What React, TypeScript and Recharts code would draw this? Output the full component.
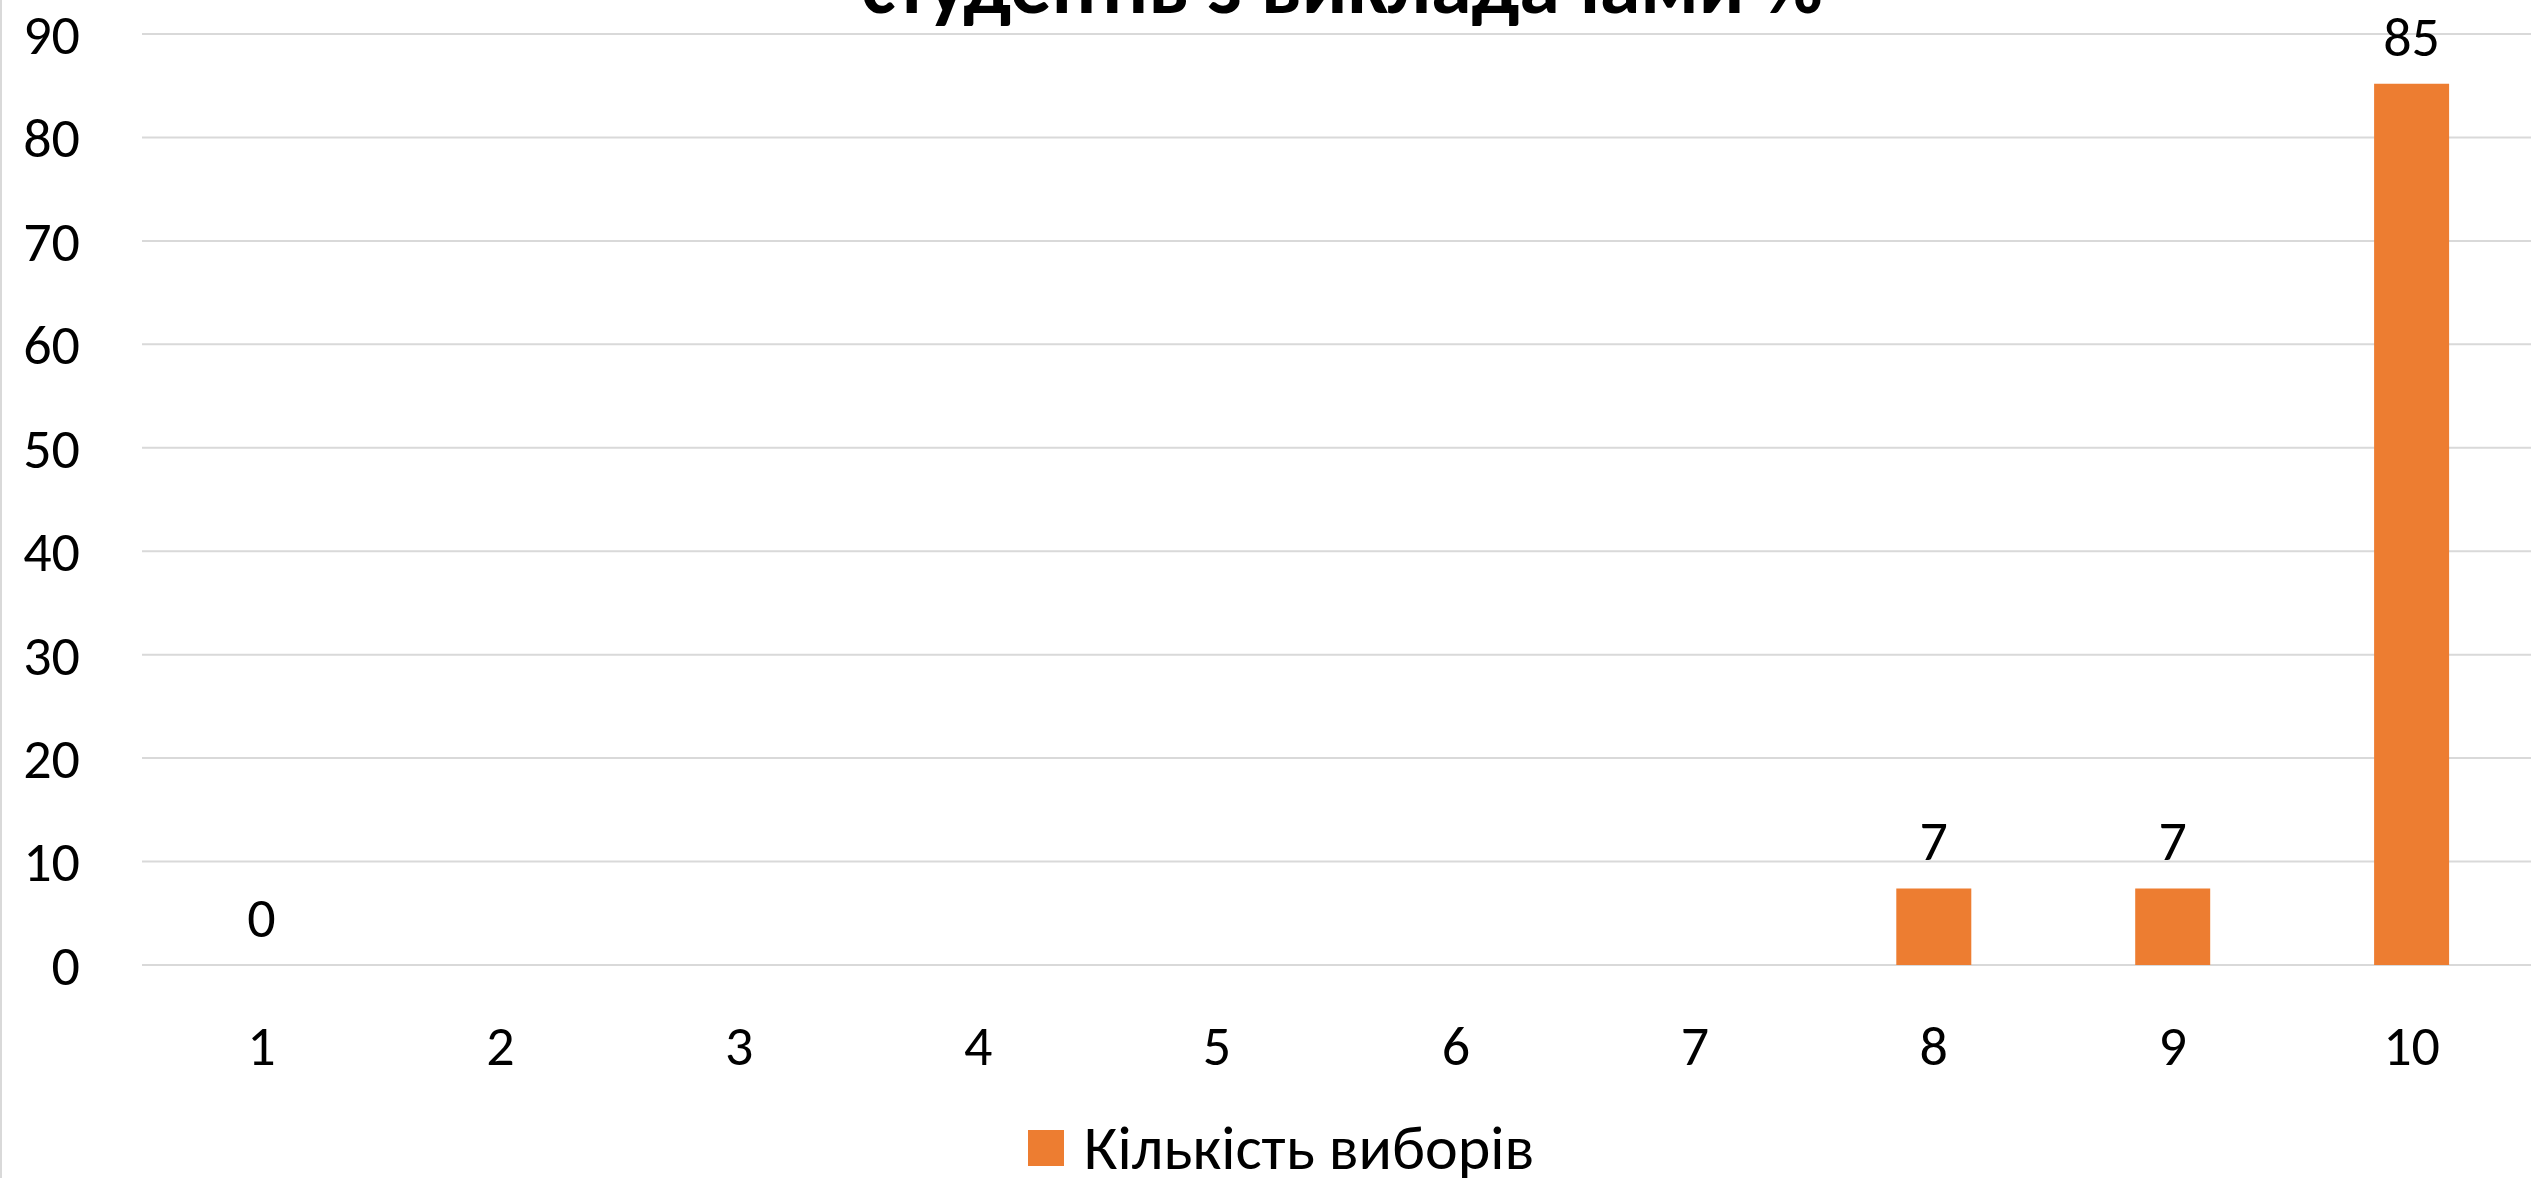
import React from 'react';
import {
  Bar,
  ComposedChart,
  CartesianGrid,
  LabelList,
  Legend,
  Line,
  XAxis,
  YAxis
} from 'recharts';

const categories = ['1', '2', '3', '4', '5', '6', '7', '8', '9', '10'];
const choices: (number | null)[] = [0, null, null, null, null, null, null, 7.4, 7.4, 85.2];
const yTicks = [0, 10, 20, 30, 40, 50, 60, 70, 80, 90];

const seriesName = 'Кількість виборів';
const titleLine = 'студентів з викладачами %';

const FONT = 'Carlito, Lato, "Open Sans", sans-serif';
const ORANGE = '#ED7D31';

const chartData = categories.map((c, i) => ({ name: c, value: choices[i] }));

function LegendContent() {
  return (
    <div
      style={{
        height: 60,
        display: 'flex',
        alignItems: 'center',
        justifyContent: 'center',
        fontFamily: FONT,
        fontSize: 62,
        lineHeight: 1,
        color: '#000'
      }}
    >
      <span style={{ width: 36, height: 36, background: ORANGE, marginRight: 20, marginLeft: 31 }} />
      <span>{seriesName}</span>
    </div>
  );
}

export default function App() {
  return (
    <div
      style={{
        position: 'absolute',
        left: 0,
        top: 0,
        width: 2539,
        height: 1178,
        background: '#fff',
        overflow: 'hidden'
      }}
    >
      <ComposedChart
        width={2539}
        height={1178}
        data={chartData}
        margin={{ top: 34, right: 8, bottom: 0, left: 0 }}
        style={{ fontFamily: FONT }}
      >
        <CartesianGrid vertical={false} stroke="#D9D9D9" strokeWidth={2} />
        <XAxis
          dataKey="name"
          height={153}
          axisLine={false}
          tickLine={false}
          tickSize={0}
          tickMargin={60}
          tick={{ fontSize: 56, fill: '#000' }}
        />
        <YAxis
          width={142}
          domain={[0, 90]}
          ticks={yTicks}
          axisLine={false}
          tickLine={false}
          tickSize={0}
          tickMargin={62}
          tick={{ fontSize: 56, fill: '#000' }}
        />
        <Legend verticalAlign="bottom" content={<LegendContent />} />
        <Bar dataKey="value" name={seriesName} fill={ORANGE} barSize={75} isAnimationActive={false} />
        {/* labels ride on an invisible line so the zero value still gets its "0" */}
        <Line
          dataKey="value"
          stroke="none"
          dot={false}
          activeDot={false}
          legendType="none"
          isAnimationActive={false}
        >
          <LabelList
            dataKey="value"
            position="top"
            offset={28}
            fontSize={56}
            fill="#000"
            formatter={(v: any) => (v == null ? '' : String(Math.round(Number(v))))}
          />
        </Line>
      </ComposedChart>
      <svg
        width={2539}
        height={60}
        style={{ position: 'absolute', left: 0, top: 0, pointerEvents: 'none' }}
      >
        <text
          x={1342}
          y={13}
          textAnchor="middle"
          fontFamily={FONT}
          fontWeight="bold"
          fontSize={82}
          fill="#000"
        >
          {titleLine}
        </text>
      </svg>
      <div
        style={{
          position: 'absolute',
          left: 0,
          top: 0,
          width: 2,
          height: 1178,
          background: '#D9D9D9'
        }}
      />
    </div>
  );
}
